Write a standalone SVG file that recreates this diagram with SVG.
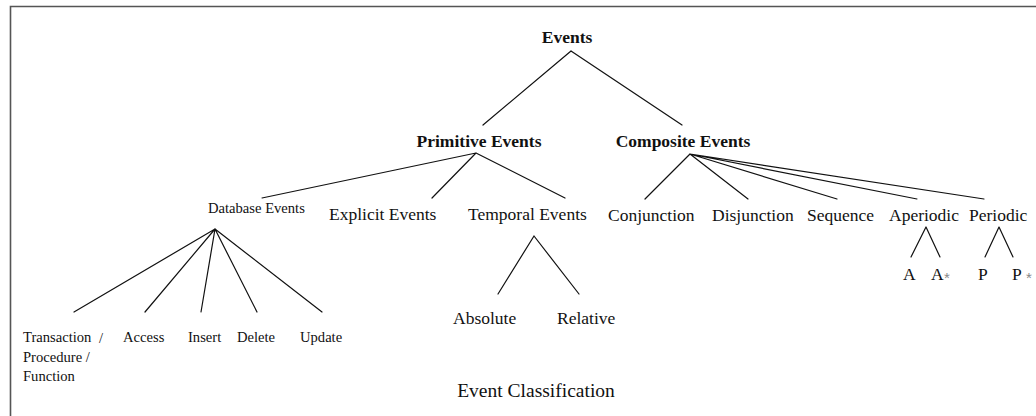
<svg xmlns="http://www.w3.org/2000/svg" width="1036" height="416" viewBox="0 0 1036 416">
  <style>
    .t { font-family: "Liberation Serif", "Times New Roman", serif; fill: #111; }
    .b { font-weight: bold; font-size: 17.5px; }
    .m { font-size: 17.5px; }
    .s { font-size: 14.6px; }
    .cap { font-size: 19.5px; }
    .star { font-family: "Liberation Sans", Arial, sans-serif; font-size: 15px; fill: #888; }
    .edge { stroke: #111; stroke-width: 1.2; fill: none; stroke-linecap: round; }
    .frame { stroke: #555; stroke-width: 1.6; fill: none; }
  </style>
  <rect width="1036" height="416" fill="#fff"/>
  <path class="frame" d="M10.5 416 V6.5 H1036"/>

  <!-- tree edges -->
  <g id="connectors">
    <path class="edge" d="M571 51 L483 125 M571 51 L682 125"/>
    <path class="edge" d="M476 153 L262 198 M476 153 L432 198 M476 153 L565 198"/>
    <path class="edge" d="M690 154 L645 199 M690 154 L748 199 M690 154 L837 199 M690 154 L917 199 M690 154 L984 199"/>
    <path class="edge" d="M215 229 L74 312 M215 229 L145 312 M215 229 L201 312 M215 229 L257 312 M215 229 L322 312"/>
    <path class="edge" d="M534 236 L498 294 M534 236 L579 294"/>
    <path class="edge" d="M926 227 L911 257 M926 227 L940 257"/>
    <path class="edge" d="M999 227 L985 257 M999 227 L1013 257"/>
  </g>

  <g id="events"><text class="t b" x="567" y="43" text-anchor="middle">Events</text></g>
  <g id="primitive"><text class="t b" x="479" y="147" text-anchor="middle">Primitive Events</text></g>
  <g id="composite"><text class="t b" x="683" y="147" text-anchor="middle">Composite Events</text></g>

  <g id="database"><text class="t s" x="208" y="213">Database Events</text></g>
  <g id="explicit"><text class="t m" x="329" y="220">Explicit Events</text></g>
  <g id="temporal"><text class="t m" x="468" y="220">Temporal Events</text></g>

  <g id="conjunction"><text class="t m" x="608" y="221">Conjunction</text></g>
  <g id="disjunction"><text class="t m" x="712" y="221">Disjunction</text></g>
  <g id="sequence"><text class="t m" x="807" y="221">Sequence</text></g>
  <g id="aperiodic"><text class="t m" x="889" y="221">Aperiodic</text></g>
  <g id="periodic"><text class="t m" x="969" y="221">Periodic</text></g>

  <g id="transaction">
    <text class="t s" x="23" y="342">Transaction</text>
    <text class="t s" x="99" y="343">/</text>
    <text class="t s" x="23" y="362">Procedure /</text>
    <text class="t s" x="23" y="381">Function</text>
  </g>
  <g id="access"><text class="t s" x="123" y="342">Access</text></g>
  <g id="insert"><text class="t s" x="188" y="342">Insert</text></g>
  <g id="delete"><text class="t s" x="237" y="342">Delete</text></g>
  <g id="update"><text class="t s" x="300" y="342">Update</text></g>

  <g id="absolute"><text class="t m" x="453" y="324">Absolute</text></g>
  <g id="relative"><text class="t m" x="557" y="324">Relative</text></g>

  <g id="a"><text class="t m" x="903" y="280">A</text></g>
  <g id="a-star"><text class="t m" x="931" y="280">A</text><text class="star" x="944" y="283">*</text></g>
  <g id="p"><text class="t m" x="978" y="280">P</text></g>
  <g id="p-star"><text class="t m" x="1012" y="280">P</text><text class="star" x="1026" y="283">*</text></g>

  <g id="caption"><text class="t cap" x="536" y="397" text-anchor="middle">Event Classification</text></g>
</svg>
